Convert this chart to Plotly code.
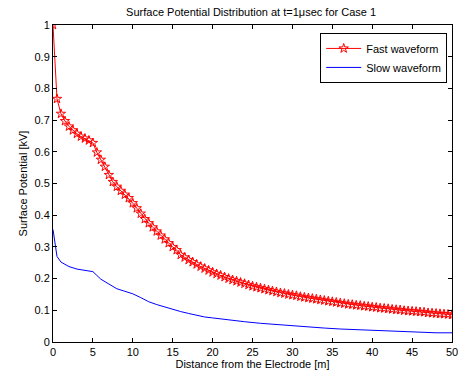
import plotly.graph_objects as go

fast_x = [i * 0.5 for i in range(101)]
fast_y = [1.0, 0.767, 0.72, 0.697, 0.68, 0.668, 0.657, 0.648, 0.642, 0.636,
          0.628, 0.598, 0.575, 0.553, 0.527, 0.505, 0.49, 0.477, 0.465, 0.454,
          0.438, 0.422, 0.405, 0.388, 0.375, 0.362, 0.349, 0.336, 0.324, 0.312,
          0.30, 0.29, 0.275, 0.267, 0.259, 0.252, 0.245, 0.238, 0.232, 0.226,
          0.22, 0.215, 0.21, 0.205, 0.20, 0.196, 0.192, 0.188, 0.184, 0.180,
          0.176, 0.173, 0.170, 0.167, 0.164, 0.161, 0.158, 0.155, 0.153, 0.150,
          0.148, 0.146, 0.143, 0.141, 0.139, 0.137, 0.135, 0.133, 0.131, 0.129,
          0.127, 0.125, 0.123, 0.121, 0.119, 0.118, 0.116, 0.115, 0.113, 0.112,
          0.110, 0.109, 0.107, 0.106, 0.105, 0.103, 0.102, 0.101, 0.099, 0.098,
          0.097, 0.096, 0.095, 0.094, 0.092, 0.091, 0.090, 0.089, 0.088, 0.087,
          0.086]

slow_x = [0, 0.5, 1, 1.5, 2, 3, 4, 5, 5.5, 6, 7, 8, 9, 10, 11, 12, 13, 14, 15,
          16, 17, 18, 19, 20, 22, 24, 26, 28, 30, 32, 34, 36, 38, 40, 42, 44,
          46, 47, 48, 50]
slow_y = [0.355, 0.27, 0.252, 0.245, 0.238, 0.23, 0.225, 0.222, 0.21, 0.198,
          0.183, 0.168, 0.16, 0.152, 0.14, 0.127, 0.118, 0.11, 0.103, 0.096,
          0.09, 0.084, 0.079, 0.076, 0.069, 0.064, 0.059, 0.055, 0.05, 0.047,
          0.044, 0.041, 0.039, 0.036, 0.034, 0.033, 0.032, 0.029, 0.029, 0.029]

x_ticks = list(range(0, 51, 5))
y_ticks = [round(i * 0.1, 1) for i in range(11)]
y_tick_labels = ["0", "0.1", "0.2", "0.3", "0.4", "0.5", "0.6", "0.7", "0.8", "0.9", "1"]

FONT = "Liberation Sans, Arial, sans-serif"

fig = go.Figure()
fig.add_trace(go.Scatter(
    x=fast_x, y=fast_y, mode="lines+markers", name="Fast waveform",
    line=dict(color="#ff0000", width=1),
    marker=dict(symbol="star-open", size=7, color="#ff0000", line=dict(width=1, color="#ff0000")),
))
fig.add_trace(go.Scatter(
    x=slow_x, y=slow_y, mode="lines", name="Slow waveform",
    line=dict(color="#0000ff", width=1),
))

axis_common = dict(
    showline=True, linecolor="black", linewidth=1, mirror="ticks",
    ticks="inside", ticklen=4, tickcolor="black", tickwidth=1,
    showgrid=False, zeroline=False,
    tickfont=dict(family=FONT, size=11, color="black"),
)

fig.update_layout(
    width=465, height=379,
    margin=dict(l=53, r=7, t=25, b=37),
    paper_bgcolor="white", plot_bgcolor="white",
    font=dict(family=FONT, size=11, color="black"),
    title=dict(text="Surface Potential Distribution at t=1μsec for Case 1",
               x=0.54, xanchor="center", y=0.968, yanchor="middle",
               font=dict(family=FONT, size=11, color="black")),
    xaxis=dict(range=[0, 50], tickvals=x_ticks,
               title=dict(text="Distance from the Electrode [m]", standoff=2,
                          font=dict(family=FONT, size=11)),
               **axis_common),
    yaxis=dict(range=[0, 1], tickvals=y_ticks, ticktext=y_tick_labels,
               title=dict(text="Surface Potential [kV]", standoff=4,
                          font=dict(family=FONT, size=11)),
               **axis_common),
    legend=dict(x=0.988, y=0.975, xanchor="right", yanchor="top",
                bgcolor="white", bordercolor="black", borderwidth=1,
                font=dict(family=FONT, size=11, color="black"),
                tracegroupgap=0, itemwidth=35),
    showlegend=True,
)

fig.write_html("out.html")
